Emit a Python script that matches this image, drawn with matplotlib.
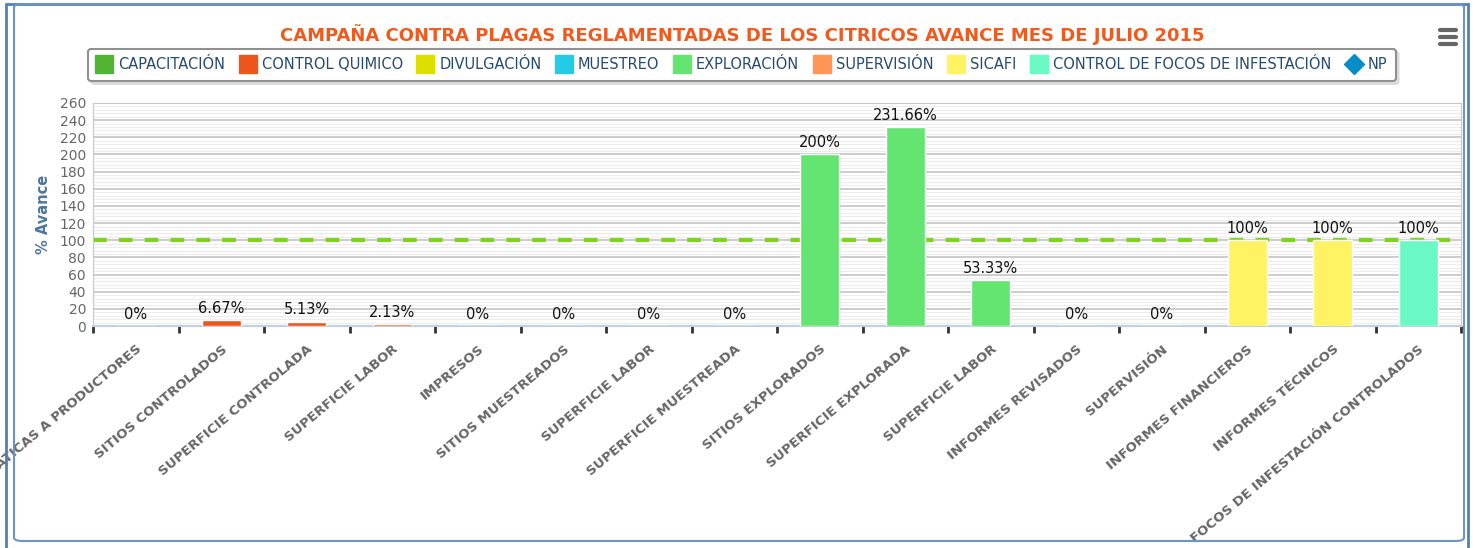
import matplotlib.pyplot as plt
from matplotlib.lines import Line2D
from matplotlib.patches import FancyBboxPatch, Rectangle

# data
categories = ['PLATICAS A PRODUCTORES', 'SITIOS CONTROLADOS', 'SUPERFICIE CONTROLADA',
              'SUPERFICIE LABOR', 'IMPRESOS', 'SITIOS MUESTREADOS', 'SUPERFICIE LABOR',
              'SUPERFICIE MUESTREADA', 'SITIOS EXPLORADOS', 'SUPERFICIE EXPLORADA',
              'SUPERFICIE LABOR', 'INFORMES REVISADOS', 'SUPERVISIÓN',
              'INFORMES FINANCIEROS', 'INFORMES TÉCNICOS', 'FOCOS DE INFESTACIÓN CONTROLADOS']
values = [0, 6.67, 5.13, 2.13, 0, 0, 0, 0, 200, 231.66, 53.33, 0, 0, 100, 100, 100]
series_of = [0, 1, 1, 1, 2, 3, 3, 3, 4, 4, 4, 5, 5, 6, 6, 7]
series_names = ['CAPACITACIÓN', 'CONTROL QUIMICO', 'DIVULGACIÓN', 'MUESTREO', 'EXPLORACIÓN',
                'SUPERVISIÓN', 'SICAFI', 'CONTROL DE FOCOS DE INFESTACIÓN']
series_colors = ['#50B432', '#ED561B', '#DDDF00', '#24CBE5', '#64E572',
                 '#FF9655', '#FFF263', '#6AF9C4']
meta = 100
title = 'CAMPAÑA CONTRA PLAGAS REGLAMENTADAS DE LOS CITRICOS AVANCE MES DE JULIO 2015'

W, H = 1475, 548
fig = plt.figure(figsize=(W / 100, H / 100), dpi=100)
ax = fig.add_axes([93 / W, 1 - 326 / H, 1368 / W, 223 / H])

# outer frame
fig.patches.append(Rectangle((6 / W, -0.05), (1468 - 6) / W, 1.05 - 4 / H, transform=fig.transFigure,
                             fill=False, edgecolor='#4f81bd', lw=2, zorder=0))
fig.patches.append(FancyBboxPatch((14 / W, 7 / H), (1464 - 14) / W, 1 - 4 / H - 7 / H,
                                  boxstyle='round,pad=0,rounding_size=0.006',
                                  transform=fig.transFigure, fill=False,
                                  edgecolor='#6f93c6', lw=1.5, zorder=0))

x = list(range(len(categories)))
bar_colors = [series_colors[s] for s in series_of]
ax.bar(x, values, width=0.46, color=bar_colors, edgecolor='white', linewidth=1, zorder=3)
ax.axhline(meta, color='#7ED321', lw=3, dashes=(3.3, 2.9), zorder=2)

for xi, v in zip(x, values):
    ax.annotate('{:g}%'.format(v), (xi, v), xytext=(0, 3), textcoords='offset points',
                ha='center', va='bottom', fontsize=10.5, color='#111111', zorder=4)

ax.set_xlim(-0.5, len(categories) - 0.5)
ax.set_ylim(0, 260)
ax.set_yticks(range(0, 261, 20))
ax.set_yticks(range(0, 261, 4), minor=True)
ax.grid(axis='y', which='major', color='#c4c4c4', lw=1.2, zorder=0)
ax.grid(axis='y', which='minor', color='#ececec', lw=0.8, zorder=0)
ax.set_axisbelow(True)
ax.tick_params(axis='y', which='both', length=0, labelsize=10, labelcolor='#666666', pad=5)

ax.set_xticks(x)
ax.set_xticklabels(categories, rotation=40, ha='right', va='top', rotation_mode='anchor',
                   fontsize=9.6, fontweight='bold', color='#666666')
ax.tick_params(axis='x', which='major', length=0, pad=12)
ax.set_xticks([i - 0.5 for i in range(len(categories) + 1)], minor=True)
ax.tick_params(axis='x', which='minor', length=5, width=2, color='#333333', direction='out')

for side in ['left', 'top', 'right']:
    ax.spines[side].set_color('#c8c8c8')
ax.spines['bottom'].set_color('#c0d0e0')
ax.spines['bottom'].set_linewidth(1.5)

ax.set_ylabel('% Avance', fontsize=10.5, fontweight='bold', color='#4d759e', labelpad=6)

fig.text(742 / W, 1 - 35 / H, title, ha='center', va='center', fontsize=13,
         fontweight='bold', color='#F05A1E')

handles = [Line2D([], [], marker='s', linestyle='none', markersize=13, color=c)
           for c in series_colors]
handles.append(Line2D([], [], marker='D', linestyle='none', markersize=10, color='#058DC7'))
leg = fig.legend(handles, series_names + ['NP'], loc='center', bbox_to_anchor=(742 / W, 1 - 65 / H),
                 ncol=9, frameon=True, fancybox=True, shadow={'color': '#c8c8c8'},
                 fontsize=10.5, handlelength=1.0, handletextpad=0.45, columnspacing=1.05,
                 borderpad=0.6, edgecolor='#909090')
for t in leg.get_texts():
    t.set_color('#274b6d')
leg.get_frame().set_linewidth(1.5)

# menu icon
for yy in [30, 37, 44]:
    fig.lines.append(Line2D([1440 / W, 1456 / W], [1 - yy / H, 1 - yy / H],
                            transform=fig.transFigure, color='#666666', lw=3,
                            solid_capstyle='round'))

plt.savefig('out.png', dpi=100)
